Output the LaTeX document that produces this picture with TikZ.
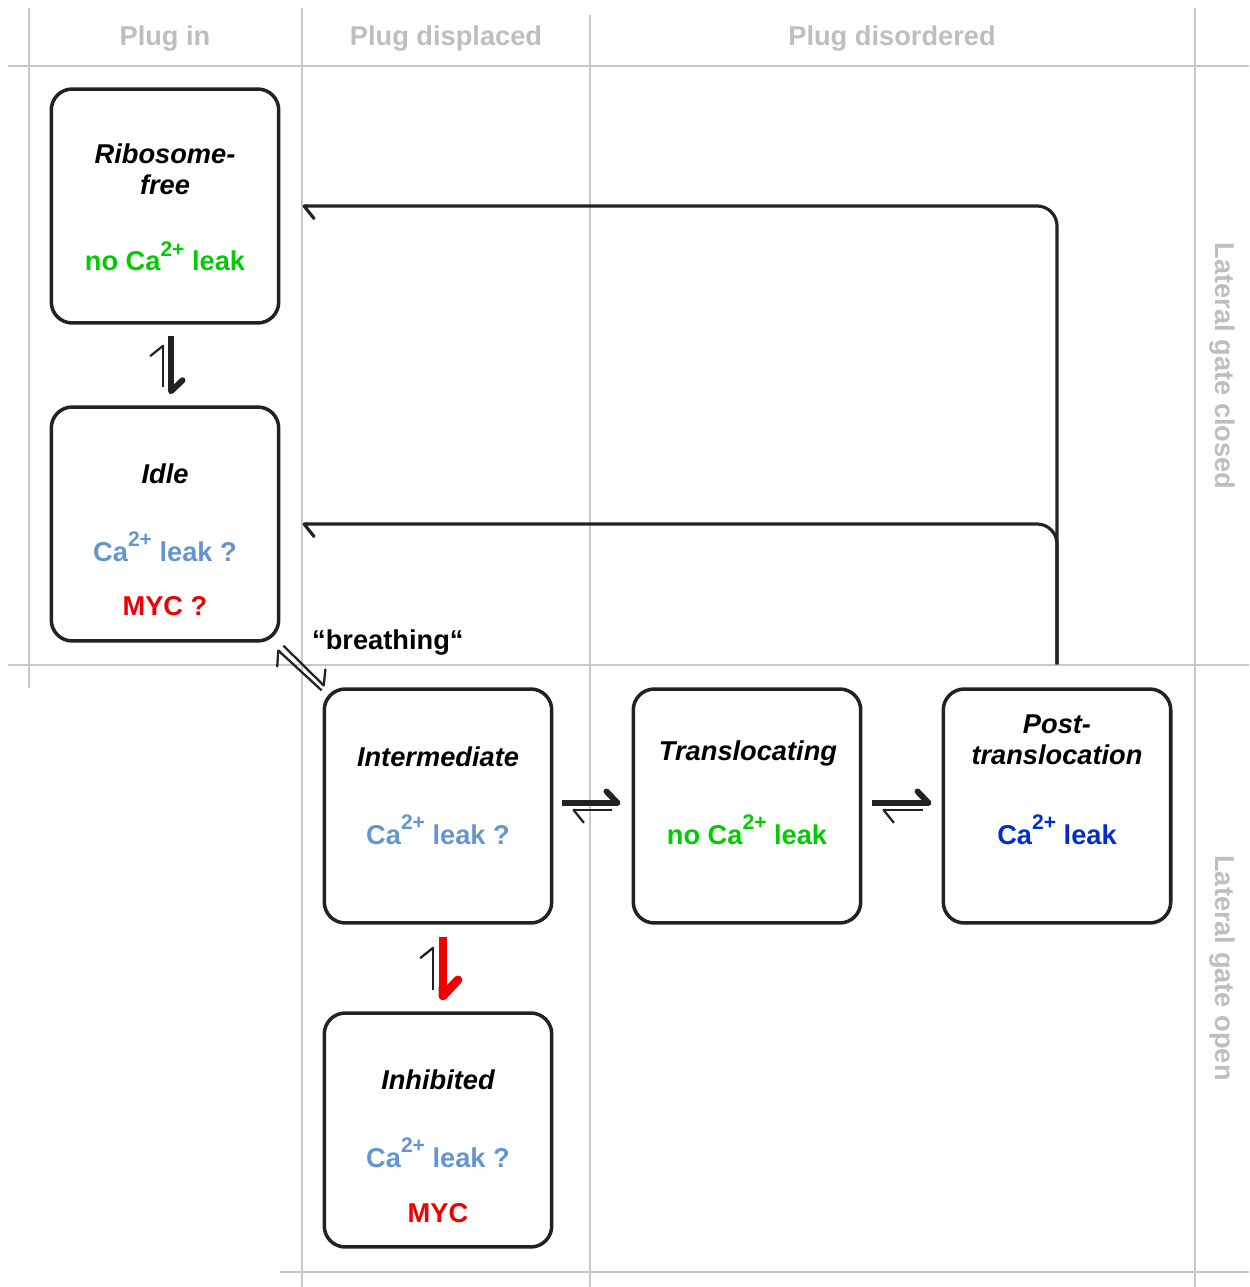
\documentclass[tikz,border=0pt]{standalone}
\usepackage{fontspec}
\setmainfont{Liberation Sans}
\usetikzlibrary{arrows.meta}

\definecolor{gridgray}{RGB}{200,200,200}
\definecolor{headgray}{RGB}{190,190,190}
\definecolor{boxline}{RGB}{34,34,34}
\definecolor{leakgreen}{RGB}{0,204,0}
\definecolor{leakblue}{RGB}{100,150,205}
\definecolor{leakdark}{RGB}{0,45,200}
\definecolor{mycred}{RGB}{240,0,0}
\newcommand{\caion}{Ca\raisebox{8.5pt}{\fontsize{12}{12}\selectfont 2+}}

\begin{document}
\begin{tikzpicture}[x=0.02cm, y=-0.02cm,
	every node/.style={font=\bfseries\fontsize{15.5}{17.6}\selectfont},
	state/.style={draw=boxline, line width=2pt, rounded corners=4.2mm, minimum width=45.5mm, minimum height=46.8mm, inner sep=0pt},
	title/.style={font=\bfseries\itshape\fontsize{15.5}{17.6}\selectfont, align=center},
	lbl/.style={anchor=base},
	lane/.style={gridgray, line width=1.1pt},
	head/.style={headgray},
	fwd/.style={boxline, line width=3.4pt, -{Straight Barb[left, round, length=2.2mm, width=4.6mm]}},
	bwd/.style={boxline, line width=1.3pt, -{Straight Barb[left, round, length=2mm, width=5mm]}},
	feed/.style={boxline, line width=1.8pt, rounded corners=4mm, -{Straight Barb[left, round, length=2mm, width=5mm]}}]
	\useasboundingbox (0,0) rectangle (1249,1287);
	% lanes
	\draw[lane] (8,66) -- (1249,66);
	\draw[lane] (8,665) -- (1249,665);
	\draw[lane] (280,1272) -- (1249,1272);
	\draw[lane] (29,8) -- (29,688);
	\draw[lane] (302,8) -- (302,1287);
	\draw[lane] (590,15) -- (590,1287);
	\draw[lane] (1195,8) -- (1195,1287);
	\node[head] (hin) at (165,39) {Plug in};
	\node[head] (hdis) at (446,39) {Plug displaced};
	\node[head] (hord) at (892,39) {Plug disordered};
	\node[head, rotate=-90] (hclosed) at (1222,366) {Lateral gate closed};
	\node[head, rotate=-90] (hopen) at (1222,968) {Lateral gate open};
	% states
	\node[state] (rf) at (165,206) {};
	\node[title] (rft) at (165,169) {Ribosome-\\free};
	\node[lbl, leakgreen] (rfl) at (165,271) {no \caion{} leak};
	\node[state] (idle) at (165,524) {};
	\node[title, lbl] (idlet) at (165,483) {Idle};
	\node[lbl, leakblue] (idlel) at (165,561) {\caion{} leak ?};
	\node[lbl, mycred] (idlem) at (165,615) {MYC ?};
	\node[state] (inter) at (438,806) {};
	\node[title, lbl] (intert) at (438,766) {Intermediate};
	\node[lbl, leakblue] (interl) at (438,844) {\caion{} leak ?};
	\node[state] (trans) at (747,806) {};
	\node[title, lbl] (transt) at (748,760) {Translocating};
	\node[lbl, leakgreen] (transl) at (747,844) {no \caion{} leak};
	\node[state] (post) at (1057,806) {};
	\node[title] (postt) at (1057,740) {Post-\\translocation};
	\node[lbl, leakdark] (postl) at (1057,844) {\caion{} leak};
	\node[state] (inhib) at (438,1130) {};
	\node[title, lbl] (inhibt) at (438,1089) {Inhibited};
	\node[lbl, leakblue] (inhibl) at (438,1167) {\caion{} leak ?};
	\node[lbl, mycred] (inhibm) at (438,1222) {MYC};
	\node[anchor=base west] (breath) at (306,649) {“breathing“};
	% equilibria
	\draw[fwd, shorten <=2.2mm, shorten >=2.2mm] ([xshift=1.2mm]rf.south) -- ([xshift=1.2mm]idle.north);
	\draw[bwd, shorten <=3.6mm, shorten >=4mm] ([xshift=-0.4mm]idle.north) -- ([xshift=-0.4mm]rf.south);
	\draw[fwd, shorten <=1.8mm, shorten >=2.2mm] ([yshift=0.6mm]inter.east) -- ([yshift=0.6mm]trans.west);
	\draw[bwd, shorten <=4mm, shorten >=3.8mm] ([yshift=-0.8mm]trans.west) -- ([yshift=-0.8mm]inter.east);
	\draw[fwd, shorten <=2mm, shorten >=2mm] ([yshift=0.6mm]trans.east) -- ([yshift=0.6mm]post.west);
	\draw[bwd, shorten <=3.8mm, shorten >=4mm] ([yshift=-0.8mm]post.west) -- ([yshift=-0.8mm]trans.east);
	\draw[fwd, mycred, line width=5pt, -{Straight Barb[left, round, length=3.2mm, width=6mm]}, shorten <=2.4mm, shorten >=2.2mm] ([xshift=1mm]inter.south) -- ([xshift=1mm]inhib.north);
	\draw[bwd, shorten <=4.2mm, shorten >=4.4mm] ([xshift=-1mm]inhib.north) -- ([xshift=-1mm]inter.south);
	\draw[bwd] ([xshift=0.6mm, yshift=-0.6mm]idle.south east) -- ([xshift=0.4mm, yshift=0.2mm]inter.north west);
	\draw[bwd] ([xshift=-0.2mm, yshift=-0.6mm]inter.north west) -- ([xshift=-0.6mm, yshift=-1.4mm]idle.south east);
	% back to the closed gate
	\draw[feed] ([yshift=4.6mm]post.north) |- ([xshift=4.4mm]rf.east);
	\draw[feed] ([yshift=4.6mm]post.north) |- ([xshift=4.4mm]idle.east);
\end{tikzpicture}
\end{document}
